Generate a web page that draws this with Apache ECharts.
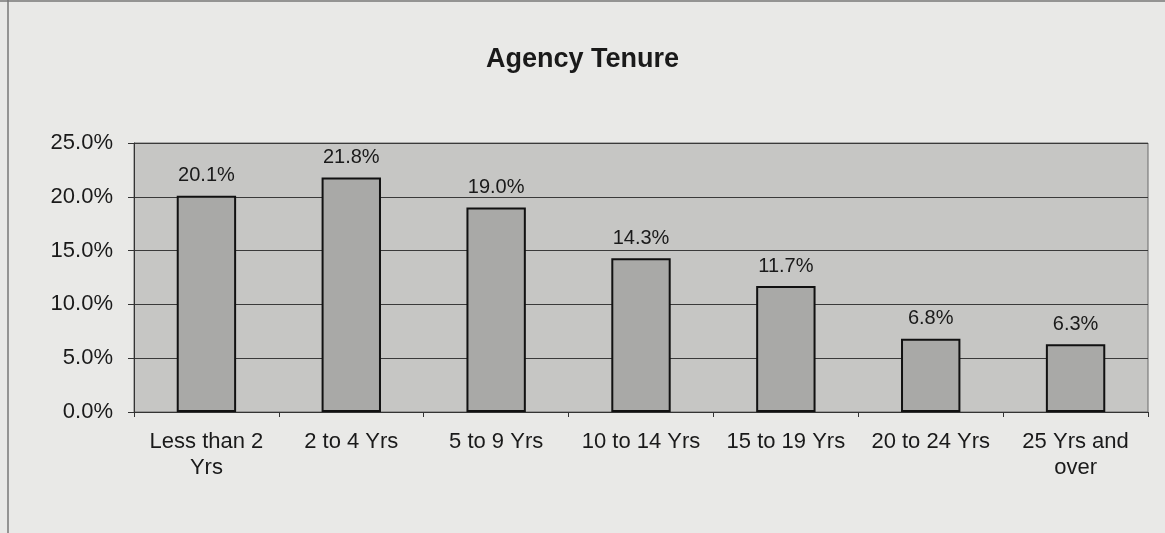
<!DOCTYPE html>
<html>
<head>
<meta charset="utf-8">
<script src="https://cdn.jsdelivr.net/npm/echarts@6/dist/echarts.min.js"></script>
<style>
  html, body { margin: 0; padding: 0; background: #e9e9e7; }
  #chart { width: 1165px; height: 533px; }
</style>
</head>
<body>
<div id="chart"></div>
<script>
// tenure bands and share of staff (%)
const categories = ['Less than 2\nYrs', '2 to 4 Yrs', '5 to 9 Yrs', '10 to 14 Yrs', '15 to 19 Yrs', '20 to 24 Yrs', '25 Yrs and\nover']
const values = [20.1, 21.8, 19.0, 14.3, 11.7, 6.8, 6.3]

const chart = echarts.init(document.getElementById('chart'))

const option = {
  backgroundColor: '#e9e9e7',
  animation: false,
  title: {
    text: 'Agency Tenure',
    left: 'center',
    top: 41,
    textStyle: { fontFamily: 'Liberation Sans, Arial', fontSize: 27, fontWeight: 'bold', color: '#1a1a1a' },
  },
  grid: {
    left: 134,
    right: 17,
    top: 143,
    bottom: 121,
    show: true,
    backgroundColor: '#c6c6c4',
    borderColor: '#6a6a6a',
    borderWidth: 1,
  },
  xAxis: {
    type: 'category',
    data: categories,
    axisLine: { lineStyle: { color: '#333', width: 1 } },
    axisTick: { show: true, alignWithLabel: false, length: 5, lineStyle: { color: '#333' } },
    axisLabel: {
      color: '#1a1a1a',
      fontFamily: 'Liberation Sans, Arial',
      fontSize: 22,
      lineHeight: 26,
      margin: 17,
      interval: 0,
    },
  },
  yAxis: {
    type: 'value',
    min: 0,
    max: 25,
    interval: 5,
    axisLine: { show: true, lineStyle: { color: '#333' } },
    axisTick: { show: true, length: 6, lineStyle: { color: '#333' } },
    splitLine: { lineStyle: { color: '#3a3a3a', width: 1 } },
    axisLabel: {
      color: '#1a1a1a',
      fontFamily: 'Liberation Sans, Arial',
      fontSize: 22,
      margin: 21,
      formatter: (v) => v.toFixed(1) + '%',
    },
  },
  series: [
    {
      type: 'bar',
      data: values,
      barWidth: '41%',
      itemStyle: { color: '#a9a9a7', borderColor: '#111', borderWidth: 2 },
      label: {
        show: true,
        position: 'top',
        distance: 10,
        color: '#1a1a1a',
        fontFamily: 'Liberation Sans, Arial',
        fontSize: 20,
        formatter: (p) => p.value.toFixed(1) + '%',
      },
    },
  ],
  graphic: [
    { type: 'line', shape: { x1: 8, y1: 0, x2: 8, y2: 533 }, style: { stroke: '#777', lineWidth: 1.5 } },
    { type: 'line', shape: { x1: 0, y1: 1, x2: 1165, y2: 1 }, style: { stroke: '#777', lineWidth: 1.5 } },
  ],
}

chart.setOption(option)
</script>
</body>
</html>
